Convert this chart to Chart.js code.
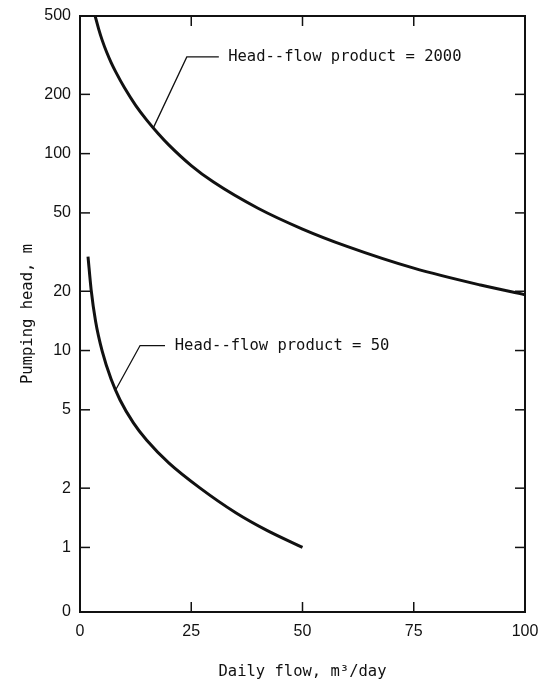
<!DOCTYPE html>
<html lang="en">
<head>
<meta charset="utf-8" />
<title>Pumping head vs daily flow</title>
<script src="https://cdn.jsdelivr.net/npm/chart.js@4/dist/chart.umd.min.js"></script>
<style>
  html, body { margin: 0; background: #fff; }
  #wrap { width: 540px; height: 683px; position: relative; }
</style>
</head>
<body>
<div id="wrap"><canvas id="chart"></canvas></div>
<script>
// values
var flow2000 = [3.4, 4.2, 5, 6, 7, 8, 10, 12.5, 15, 17.5, 20, 25, 30, 40, 50, 60, 75, 90, 100];
var head2000 = [500, 429, 376, 327, 290, 261, 216, 176, 148, 127, 110.5, 87, 71.7, 52.8, 41.4, 33.8, 26.2, 21.5, 19.2];
var flow50 = [1.8, 2.5, 3.5, 5, 7, 9, 12, 15, 20, 27, 35, 42, 50];
var head50 = [30, 20.4, 14.1, 9.9, 7.14, 5.61, 4.29, 3.5, 2.68, 2.0, 1.5, 1.22, 1.0];
var xTicks = [0, 25, 50, 75, 100];
var yTicks = [0.47, 1, 2, 5, 10, 20, 50, 100, 200, 500];
var yTickLabels = ['0', '1', '2', '5', '10', '20', '50', '100', '200', '500'];
var curveNames = ['Head--flow product = 2000', 'Head--flow product = 50'];

// leader lines, in data units (flow, head)
var leaders = [
  { from: [16.4, 134], elbow: [24, 310], to: [31.2, 310], text: [33.3, 310] },
  { from: [8, 6.3], elbow: [13.5, 10.6], to: [19.1, 10.6], text: [21.3, 10.6] }
];

var ink = '#111';
var monoFont = 'DejaVu Sans Mono';

function pts(xs, ys) {
  return xs.map(function (x, i) { return { x: x, y: ys[i] }; });
}

var frameTicks = {
  id: 'frameTicks',
  afterDraw: function (chart) {
    var ctx = chart.ctx, a = chart.chartArea, x = chart.scales.x, y = chart.scales.y;
    function seg(x1, y1, x2, y2) { ctx.beginPath(); ctx.moveTo(x1, y1); ctx.lineTo(x2, y2); ctx.stroke(); }
    ctx.save();
    ctx.strokeStyle = ink;
    ctx.lineWidth = 2;
    ctx.strokeRect(a.left, a.top, a.right - a.left, a.bottom - a.top);
    ctx.lineWidth = 1.5;
    yTicks.slice(1, -1).forEach(function (v) {
      var py = y.getPixelForValue(v);
      seg(a.left, py, a.left + 10, py);
      seg(a.right, py, a.right - 10, py);
    });
    xTicks.slice(1, -1).forEach(function (v) {
      var px = x.getPixelForValue(v);
      seg(px, a.bottom, px, a.bottom - 10);
      seg(px, a.top, px, a.top + 10);
    });
    // labels with leader lines
    ctx.lineWidth = 1.3;
    ctx.fillStyle = ink;
    ctx.font = '15.5px "' + monoFont + '"';
    ctx.textBaseline = 'middle';
    ctx.textAlign = 'left';
    leaders.forEach(function (l, i) {
      ctx.beginPath();
      ctx.moveTo(x.getPixelForValue(l.from[0]), y.getPixelForValue(l.from[1]));
      ctx.lineTo(x.getPixelForValue(l.elbow[0]), y.getPixelForValue(l.elbow[1]));
      ctx.lineTo(x.getPixelForValue(l.to[0]), y.getPixelForValue(l.to[1]));
      ctx.stroke();
      ctx.fillText(curveNames[i], x.getPixelForValue(l.text[0]), y.getPixelForValue(l.text[1]));
    });
    ctx.restore();
  }
};

Chart.defaults.color = ink;
Chart.defaults.animation = false;

new Chart(document.getElementById('chart'), {
  type: 'line',
  data: {
    datasets: [
      { label: curveNames[0], data: pts(flow2000, head2000) },
      { label: curveNames[1], data: pts(flow50, head50) }
    ]
  },
  options: {
    responsive: true,
    maintainAspectRatio: false,
    layout: { padding: { left: 0, top: 16, right: 15, bottom: 0 } },
    elements: {
      point: { radius: 0 },
      line: { borderColor: ink, borderWidth: 3, cubicInterpolationMode: 'monotone', fill: false }
    },
    plugins: { legend: { display: false }, tooltip: { enabled: false } },
    scales: {
      x: {
        type: 'linear',
        min: 0, max: 100,
        grid: { display: false, drawTicks: false },
        border: { display: false },
        afterBuildTicks: function (s) { s.ticks = xTicks.map(function (v) { return { value: v }; }); },
        afterFit: function (s) { s.height = 71; s.paddingLeft = 0; s.paddingRight = 0; },
        ticks: { autoSkip: false, maxRotation: 0, padding: 10, font: { family: 'Liberation Sans', size: 16 } },
        title: { display: true, text: 'Daily flow, m\u00b3/day', padding: { top: 0, bottom: 2 },
                 font: { family: monoFont, size: 15.5 } }
      },
      y: {
        type: 'logarithmic',
        min: 0.47, max: 500,
        grid: { display: false, drawTicks: false },
        border: { display: false },
        afterBuildTicks: function (s) { s.ticks = yTicks.map(function (v) { return { value: v }; }); },
        afterFit: function (s) { s.width = 80; s.paddingTop = 0; s.paddingBottom = 0; },
        ticks: {
          autoSkip: false, padding: 9, font: { family: 'Liberation Sans', size: 16 },
          callback: function (v) { return yTickLabels[yTicks.indexOf(v)]; }
        },
        title: { display: true, text: 'Pumping head, m', padding: { top: 19, bottom: 0 },
                 font: { family: monoFont, size: 15.5 } }
      }
    }
  },
  plugins: [frameTicks]
});
</script>
</body>
</html>
